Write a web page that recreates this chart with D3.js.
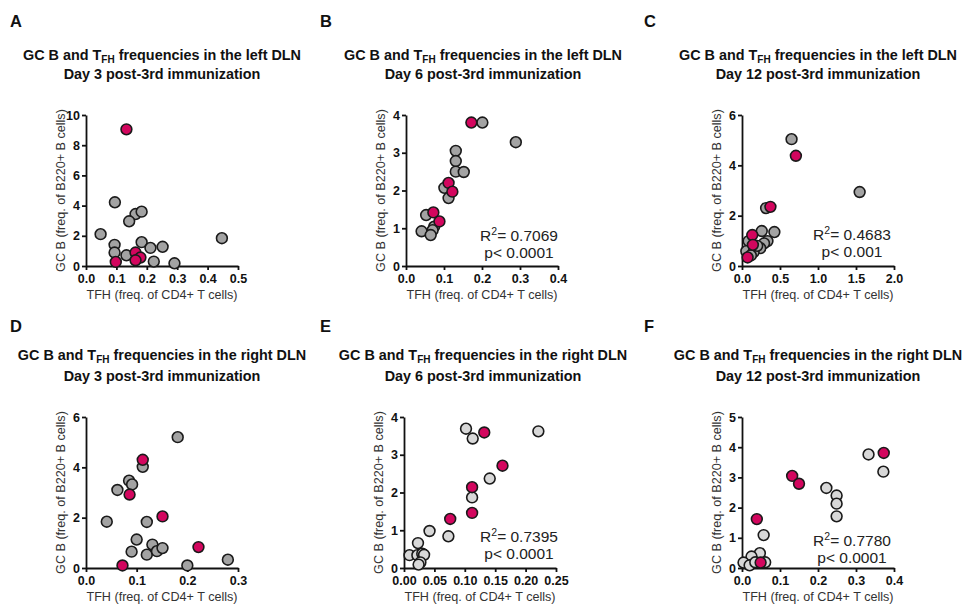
<!DOCTYPE html>
<html>
<head>
<meta charset="utf-8">
<script src="https://cdn.jsdelivr.net/npm/d3@7"></script>
<style>
  body { margin: 0; background: #fff; }
  svg { font-family: "Liberation Sans", Arial, sans-serif; }
</style>
</head>
<body>
<div id="chart"></div>
<script>
// GC B vs TFH frequencies, six panels (left/right DLN x day 3/6/12)
const titleSides = ["left", "left", "left", "right", "right", "right"];
const titleDays = ["3", "6", "12", "3", "6", "12"];
const panelLetters = ["A", "B", "C", "D", "E", "F"];

// [TFH, GC B]
const grayA = [[0.095,4.22],[0.163,3.44],[0.183,3.6],[0.142,2.96],[0.048,2.11],[0.094,1.4],[0.094,0.89],
  [0.183,1.58],[0.212,1.2],[0.252,1.27],[0.447,1.84],[0.133,0.71],[0.223,0.29],[0.291,0.18]];
const pinkA = [[0.133,9.05],[0.163,0.89],[0.179,0.56],[0.163,0.38],[0.098,0.27]];

const grayB = [[0.201,3.8],[0.289,3.28],[0.131,3.05],[0.131,2.78],[0.131,2.5],[0.152,2.49],[0.101,2.07],
  [0.112,1.8],[0.053,1.35],[0.074,1.04],[0.07,0.95],[0.041,0.92],[0.065,0.82]];
const pinkB = [[0.172,3.8],[0.112,2.2],[0.122,1.97],[0.072,1.42],[0.088,1.18]];

const grayC = [[0.652,5.04],[1.548,2.94],[0.317,2.3],[0.26,1.39],[0.426,1.35],[0.335,0.99],[0.29,0.9],
  [0.087,0.99],[0.24,0.71],[0.057,0.59],[0.152,0.55],[0.117,0.42],[0.2,0.8]];
const pinkC = [[0.709,4.38],[0.374,2.35],[0.135,1.23],[0.143,0.84],[0.074,0.34]];

const grayD = [[0.181,5.2],[0.112,4.02],[0.085,3.47],[0.091,3.32],[0.062,3.1],[0.041,1.84],[0.12,1.83],
  [0.1,1.13],[0.131,0.93],[0.09,0.65],[0.12,0.53],[0.14,0.67],[0.151,0.79],[0.2,0.1],[0.28,0.33]];
const pinkD = [[0.112,4.3],[0.086,2.92],[0.151,2.05],[0.222,0.83],[0.072,0.1]];

const grayE = [[0.102,3.69],[0.113,3.43],[0.221,3.62],[0.141,2.37],[0.112,1.87],[0.042,0.98],[0.073,0.84],
  [0.023,0.66],[0.009,0.34],[0.022,0.34],[0.03,0.38],[0.033,0.35],[0.027,0.15],[0.024,0.09]];
const pinkE = [[0.132,3.59],[0.162,2.71],[0.112,2.14],[0.112,1.46],[0.076,1.3]];

const grayF = [[0.333,3.76],[0.372,3.19],[0.222,2.65],[0.249,2.4],[0.249,2.13],[0.249,1.71],[0.057,1.09],
  [0.047,0.49],[0.025,0.38],[0.004,0.18],[0.02,0.09],[0.035,0.19],[0.061,0.19]];
const pinkF = [[0.373,3.81],[0.132,3.05],[0.15,2.79],[0.039,1.62],[0.049,0.18]];

const xTicksA = [0, 0.1, 0.2, 0.3, 0.4, 0.5];
const xTicksB = [0, 0.1, 0.2, 0.3, 0.4];
const xTicksC = [0, 0.5, 1.0, 1.5, 2.0];
const xTicksD = [0, 0.1, 0.2, 0.3];
const xTicksE = [0, 0.05, 0.10, 0.15, 0.20, 0.25];
const xTicksF = [0, 0.1, 0.2, 0.3, 0.4];
const yTicksA = [0, 2, 4, 6, 8, 10];
const yTicksB = [0, 1, 2, 3, 4];
const yTicksC = [0, 2, 4, 6];
const yTicksD = [0, 2, 4, 6];
const yTicksE = [0, 1, 2, 3, 4];
const yTicksF = [0, 1, 2, 3, 4, 5];

const rSquared = [null, "0.7069", "0.4683", null, "0.7395", "0.7780"];
const pValues = [null, "0.0001", "0.001", null, "0.0001", "0.0001"];

const W = 969, H = 610;
const plotW = 152, plotH = 151;
const pink = "#d3065e";
const grayDark = "#a3a3a3";
const grayLight = "#d8d8d8";

const panels = [
  { gray: grayA, pink: pinkA, xt: xTicksA, yt: yTicksA, xf: ".1f", fill: grayDark, left: 86,  top: 115, col: 0, sx: 112, sy: 126 },
  { gray: grayB, pink: pinkB, xt: xTicksB, yt: yTicksB, xf: ".1f", fill: grayDark, left: 406, top: 115, col: 1, sx: 113, sy: 126 },
  { gray: grayC, pink: pinkC, xt: xTicksC, yt: yTicksC, xf: ".1f", fill: grayDark, left: 742, top: 115, col: 2, sx: 110, sy: 125 },
  { gray: grayD, pink: pinkD, xt: xTicksD, yt: yTicksD, xf: ".1f", fill: grayDark, left: 86,  top: 417, col: 0, sx: 112, sy: 126 },
  { gray: grayE, pink: pinkE, xt: xTicksE, yt: yTicksE, xf: ".2f", fill: grayLight, left: 404, top: 417, col: 1, sx: 115, sy: 125 },
  { gray: grayF, pink: pinkF, xt: xTicksF, yt: yTicksF, xf: ".1f", fill: grayLight, left: 742, top: 417, col: 2, sx: 110, sy: 129 }
];

const titleCx = [162, 483, 818];
const letterX = [10, 320, 644];

const svg = d3.select("#chart").append("svg")
  .attr("width", W).attr("height", H);

panels.forEach((p, i) => {
  const row = i < 3 ? 0 : 1;
  const base1 = row === 0 ? 60 : 360;
  const base2 = row === 0 ? 79 : 381;

  // panel letter
  svg.append("text")
    .attr("x", letterX[p.col]).attr("y", row === 0 ? 27 : 332)
    .attr("fill", "#111")
    .style("font-size", "16.5px").style("font-weight", "bold")
    .text(panelLetters[i]);

  // title
  const t1 = svg.append("text")
    .attr("x", titleCx[p.col]).attr("y", base1)
    .attr("text-anchor", "middle").attr("fill", "#111")
    .style("font-size", "14.4px").style("font-weight", "bold");
  t1.append("tspan").text("GC B and T");
  t1.append("tspan").attr("dy", 2.5).style("font-size", "10px").text("FH");
  t1.append("tspan").attr("dy", -2.5).text(` frequencies in the ${titleSides[i]} DLN`);

  svg.append("text")
    .attr("x", titleCx[p.col]).attr("y", base2)
    .attr("text-anchor", "middle").attr("fill", "#111")
    .style("font-size", "14.4px").style("font-weight", "bold")
    .text(`Day ${titleDays[i]} post-3rd immunization`);

  const g = svg.append("g").attr("transform", `translate(${p.left}, ${p.top})`);

  const x = d3.scaleLinear().domain([0, p.xt[p.xt.length - 1]]).range([0, plotW]);
  const y = d3.scaleLinear().domain([0, p.yt[p.yt.length - 1]]).range([plotH, 0]);

  const xAxis = g.append("g")
    .attr("transform", `translate(0, ${plotH})`)
    .call(d3.axisBottom(x).tickValues(p.xt).tickFormat(d3.format(p.xf)).tickSize(4).tickSizeOuter(0).tickPadding(4));
  const yAxis = g.append("g")
    .call(d3.axisLeft(y).tickValues(p.yt).tickFormat(d3.format("d")).tickSize(4).tickSizeOuter(0).tickPadding(2));

  [xAxis, yAxis].forEach(a => {
    a.select(".domain").attr("stroke", "#111").attr("stroke-width", 1.8);
    a.selectAll(".tick line").attr("stroke", "#111").attr("stroke-width", 1.8);
    a.selectAll(".tick text")
      .attr("fill", "#111")
      .style("font-size", "12.5px").style("font-weight", "bold")
      .style("font-family", "'Liberation Sans', Arial, sans-serif");
  });

  // axis titles
  g.append("text")
    .attr("x", plotW / 2).attr("y", plotH + 33)
    .attr("text-anchor", "middle")
    .attr("fill", "#333")
    .style("font-size", "12.6px")
    .text("TFH (freq. of CD4+ T cells)");

  g.append("text")
    .attr("transform", `translate(-21, ${plotH / 2}) rotate(-90)`)
    .attr("text-anchor", "middle")
    .attr("fill", "#333")
    .style("font-size", "12.6px")
    .text("GC B (freq. of B220+ B cells)");

  // points: gray first, pink on top
  g.selectAll(".g").data(p.gray).enter().append("circle")
    .attr("cx", d => x(d[0])).attr("cy", d => y(d[1])).attr("r", 5.4)
    .attr("fill", p.fill).attr("stroke", "#1a1a1a").attr("stroke-width", 1.6);
  g.selectAll(".p").data(p.pink).enter().append("circle")
    .attr("cx", d => x(d[0])).attr("cy", d => y(d[1])).attr("r", 5.4)
    .attr("fill", pink).attr("stroke", "#1a1a1a").attr("stroke-width", 1.6);

  // regression stats
  if (rSquared[i]) {
    const r = g.append("text")
      .attr("x", p.sx).attr("y", p.sy)
      .attr("text-anchor", "middle").attr("fill", "#222")
      .style("font-size", "15.5px");
    r.append("tspan").text("R");
    r.append("tspan").attr("dy", -6).style("font-size", "10.5px").text("2");
    r.append("tspan").attr("dy", 6).text(`= ${rSquared[i]}`);
    g.append("text")
      .attr("x", p.sx).attr("y", p.sy + 17)
      .attr("text-anchor", "middle").attr("fill", "#222")
      .style("font-size", "15.5px")
      .text(`p< ${pValues[i]}`);
  }
});
</script>
</body>
</html>
